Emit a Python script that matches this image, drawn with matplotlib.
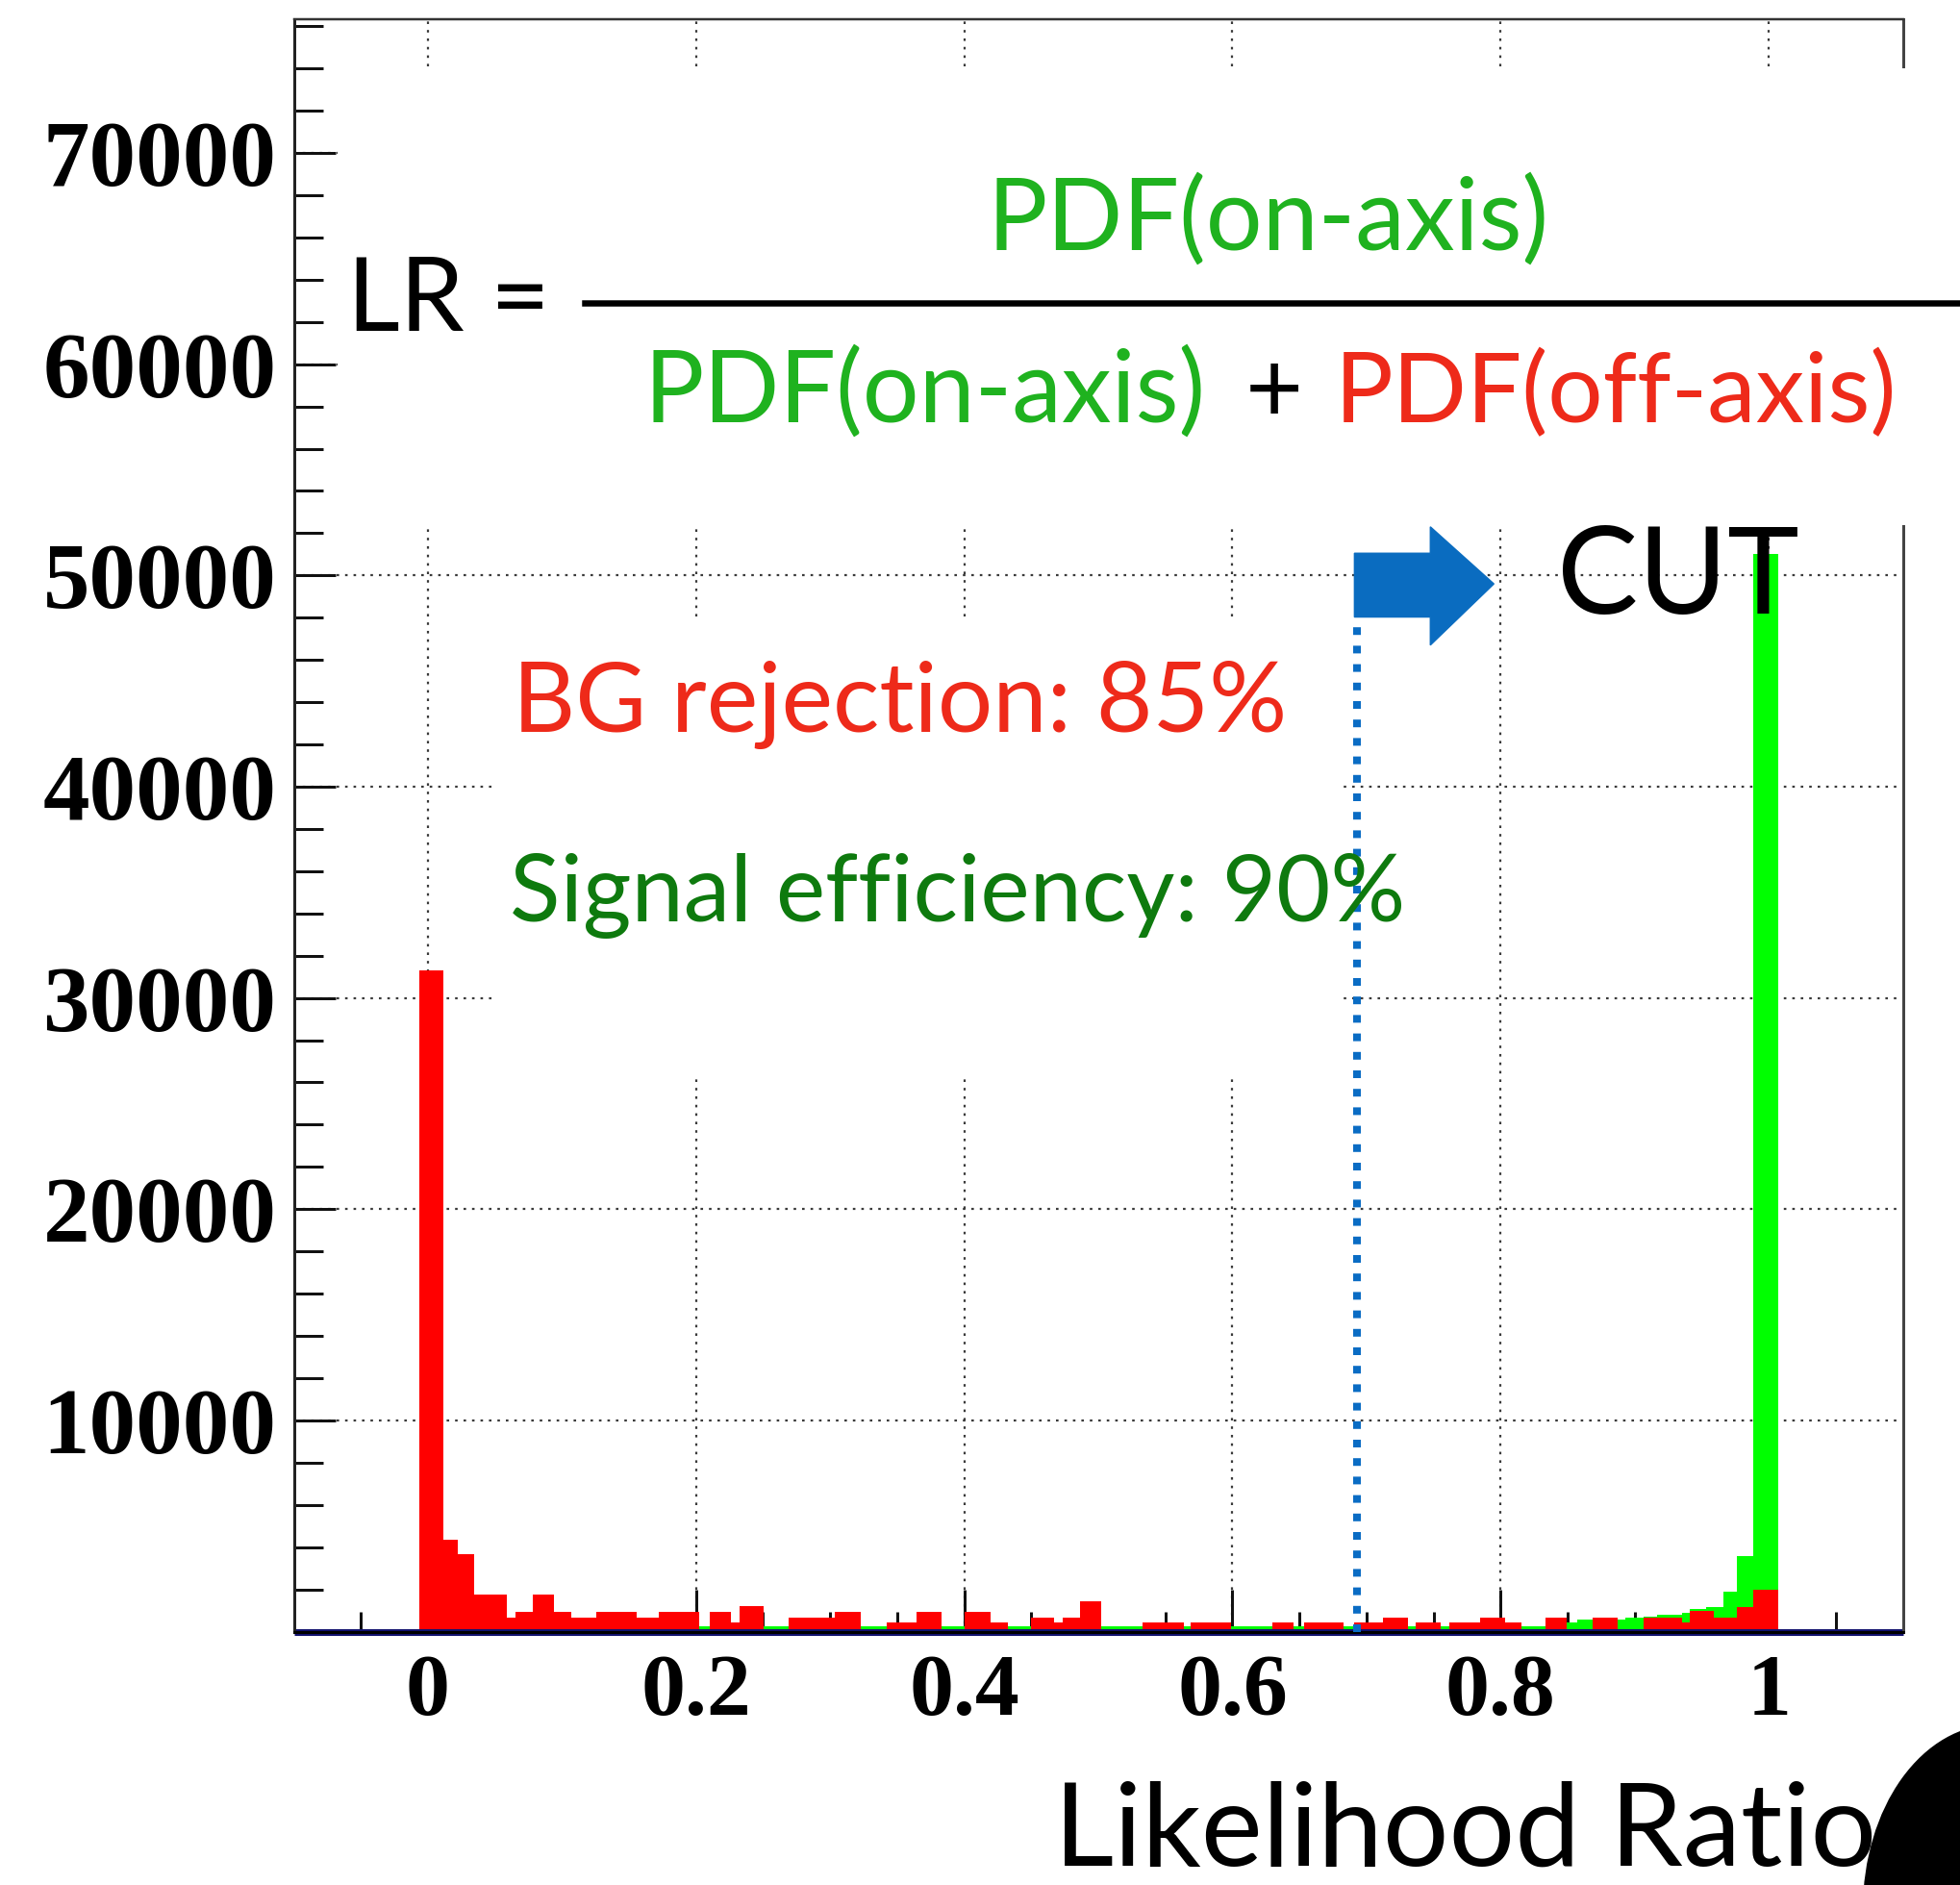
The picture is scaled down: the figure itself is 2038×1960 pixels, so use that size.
import matplotlib
matplotlib.use('Agg')
import matplotlib.pyplot as plt
from matplotlib.patches import Rectangle, Polygon, Ellipse
from matplotlib.lines import Line2D
from matplotlib.ticker import FixedLocator
import numpy as np

# ---------------- data ----------------
red_edges = [-0.0064, 0.0115, 0.0223, 0.0345, 0.0589, 0.0655, 0.0780, 0.0940, 0.1067,
             0.1253, 0.1560, 0.1724, 0.2023, 0.2099, 0.2262, 0.2321, 0.2501, 0.2692,
             0.3036, 0.3230, 0.3422, 0.3641, 0.3827, 0.4003, 0.4198, 0.4322, 0.4497,
             0.4672, 0.4736, 0.4863, 0.5023, 0.5333, 0.5638, 0.5685, 0.5991, 0.6297,
             0.6459, 0.6534, 0.6828, 0.6904, 0.7126, 0.7311, 0.7370, 0.7550, 0.7621,
             0.7844, 0.8035, 0.8155, 0.8338, 0.8489, 0.8688, 0.8872, 0.9063, 0.9350,
             0.9410, 0.9593, 0.9763, 0.9887, 1.0072]
red_counts = [31300, 4350, 3650, 1750, 640, 950, 1750, 950, 640, 950, 640, 950, 0,
              950, 425, 1185, 0, 640, 950, 0, 425, 950, 0, 950, 425, 0, 650, 425,
              650, 1445, 0, 425, 0, 425, 0, 425, 0, 425, 0, 425, 650, 0, 425, 0,
              425, 650, 425, 0, 670, 0, 670, 0, 670, 410, 973, 670, 1170, 1960]

green_edges = [-0.0064, 0.2023, 0.8489, 0.8573, 0.8932, 0.9063, 0.9170, 0.9350,
               0.9410, 0.9529, 0.9661, 0.9763, 0.9887, 1.0072]
green_counts = [250, 260, 410, 547, 640, 700, 775, 897, 1064, 1170, 1870, 3557, 51000]

cut_value = 0.693
x_ticks = [0, 0.2, 0.4, 0.6, 0.8, 1]
x_tick_labels = ['0', '0.2', '0.4', '0.6', '0.8', '1']
y_ticks = [10000, 20000, 30000, 40000, 50000, 60000, 70000]
y_tick_labels = ['10000', '20000', '30000', '40000', '50000', '60000', '70000']

# ---------------- figure ----------------
W, H, DPI = 2038, 1960, 100
PT = 72.0 / DPI  # points per pixel

fig = plt.figure(figsize=(W / DPI, H / DPI), dpi=DPI)
fig.patch.set_facecolor('white')


def fx(px):
    return px / W


def fy(py):
    return 1.0 - py / H


ax_l, ax_r, ax_t, ax_b = 305.5, 1978.6, 20.0, 1696.5
ax = fig.add_axes([fx(ax_l), fy(ax_b), (ax_r - ax_l) / W, (ax_b - ax_t) / H])
ax.set_xlim(-0.1, 1.1)
ax.set_ylim(0, 76330)
ax.set_facecolor('white')

# grid (dotted, below the histograms)
grid_kw = dict(color='#3a3a3a', lw=2.2 * PT, dashes=(1.2, 2.8), zorder=1)
for xv in x_ticks:
    ax.axvline(xv, **grid_kw)
for yv in y_ticks:
    ax.axhline(yv, **grid_kw)

# histograms
ax.stairs(green_counts, green_edges, fill=True, color='#00ff00', zorder=2)
ax.stairs(red_counts, red_edges, fill=True, color='#ff0000', zorder=2.1)

# baseline (blue histogram line)
ax.plot([-0.1, 1.1], [0, 0], color='#12126e', lw=7 * PT, clip_on=False,
        zorder=2.3, solid_capstyle='butt')

# white box behind the efficiency texts
bx0, bx1, by0, by1 = 516, 1397, 643, 1121
ax.add_patch(Rectangle((fx(bx0), fy(by1)), (bx1 - bx0) / W, (by1 - by0) / H,
                       transform=fig.transFigure, facecolor='white',
                       edgecolor='none', zorder=2.2, clip_on=False))

# cut line and arrow
arrow_y = 49600
ax.plot([cut_value, cut_value], [0, arrow_y - 1570], color='#0a6cc4',
        lw=8 * PT, dashes=(1.0, 1.4), zorder=3, solid_capstyle='butt')
arrow_pts = [(cut_value - 0.002, arrow_y - 1570), (0.7476, arrow_y - 1570),
             (0.7476, arrow_y - 2900), (0.795, arrow_y),
             (0.7476, arrow_y + 2700), (0.7476, arrow_y + 1450),
             (cut_value - 0.002, arrow_y + 1450)]
ax.add_patch(Polygon(arrow_pts, closed=True, facecolor='#0a6cc0',
                     edgecolor='#0a6cc0', lw=1, zorder=3))

# axes styling
ax.spines['left'].set_linewidth(3 * PT)
ax.spines['left'].set_color('#222222')
ax.spines['top'].set_linewidth(2.5 * PT)
ax.spines['top'].set_color('#333333')
ax.spines['right'].set_linewidth(3 * PT)
ax.spines['right'].set_color('#444444')
ax.spines['bottom'].set_linewidth(3 * PT)
ax.spines['bottom'].set_color('#000000')

ax.set_xticks(x_ticks)
ax.set_xticklabels(x_tick_labels)
ax.set_yticks(y_ticks)
ax.set_yticklabels(y_tick_labels)
ax.xaxis.set_minor_locator(FixedLocator([v for v in np.arange(-0.05, 1.06, 0.05)
                                         if min(abs(v - t) for t in x_ticks) > 1e-6]))
ax.yaxis.set_minor_locator(FixedLocator([v for v in range(2000, 76001, 2000)
                                         if v % 10000 != 0]))
ax.tick_params(axis='both', which='both', direction='in', top=False, right=False,
               color='#111111')
ax.tick_params(axis='y', which='major', length=43 * PT, width=3 * PT, pad=13)
ax.tick_params(axis='y', which='minor', length=30 * PT, width=3 * PT)
ax.tick_params(axis='x', which='major', length=44 * PT, width=3 * PT, pad=17)
ax.tick_params(axis='x', which='minor', length=21 * PT, width=3 * PT)
for lab in ax.get_yticklabels():
    lab.set_fontfamily('Liberation Serif')
    lab.set_fontweight('bold')
    lab.set_fontsize(97 * PT)
for lab in ax.get_xticklabels():
    lab.set_fontfamily('Liberation Serif')
    lab.set_fontweight('bold')
    lab.set_fontsize(92 * PT)

# white box behind the formula (covers grid / right spine)
fig.add_artist(Rectangle((fx(351), fy(546)), (W - 351) / W, (546 - 71.5) / H,
                         transform=fig.transFigure, facecolor='white',
                         edgecolor='none', zorder=1))

# fraction bar
fig.add_artist(Line2D([fx(608), fx(W)], [fy(314.6), fy(314.6)], color='black',
                      lw=6.5 * PT, zorder=3, transform=fig.transFigure))

renderer = fig.canvas.get_renderer()
FAM = ['Lato', 'DejaVu Sans']


def place(txt, x_left, baseline, target_w, color, size_px=None, ha='left'):
    t = fig.text(fx(x_left), fy(baseline), txt, fontsize=60, family=FAM,
                 color=color, ha=ha, va='baseline', zorder=4)
    if size_px is None:
        w = t.get_window_extent(renderer).width
        t.set_fontsize(60 * target_w / w)
    else:
        t.set_fontsize(size_px * PT)
    return t


GREEN_T = '#1fb21f'
RED_T = '#ee2a1a'
DKGREEN_T = '#0e7a0e'

place('LR =', 361, 344.5, 211, 'black')
place('PDF(on-axis)', 1027, 260, 585, GREEN_T)
den = place('PDF(on-axis)', 669.5, 439, 585, GREEN_T)
plus = place('+', 1325, 439, None, 'black', size_px=100, ha='center')
plus.set_fontsize(den.get_fontsize())
place('PDF(off-axis)', 1388, 439, 585, RED_T)
place('CUT', 1619, 638, 252, 'black')
place('BG rejection: 85%', 533, 760.5, 806, RED_T)
place('Signal efficiency: 90%', 530, 958, 932, DKGREEN_T)
place('Likelihood Ratio', 1096, 1940, None, 'black', size_px=121)

# black blob at bottom-right corner
fig.add_artist(Ellipse((fx(2075), fy(1985)), 276 / W, 384 / H,
                       transform=fig.transFigure, facecolor='black',
                       edgecolor='none', zorder=5))

fig.savefig('out.png', dpi=DPI, facecolor='white')
